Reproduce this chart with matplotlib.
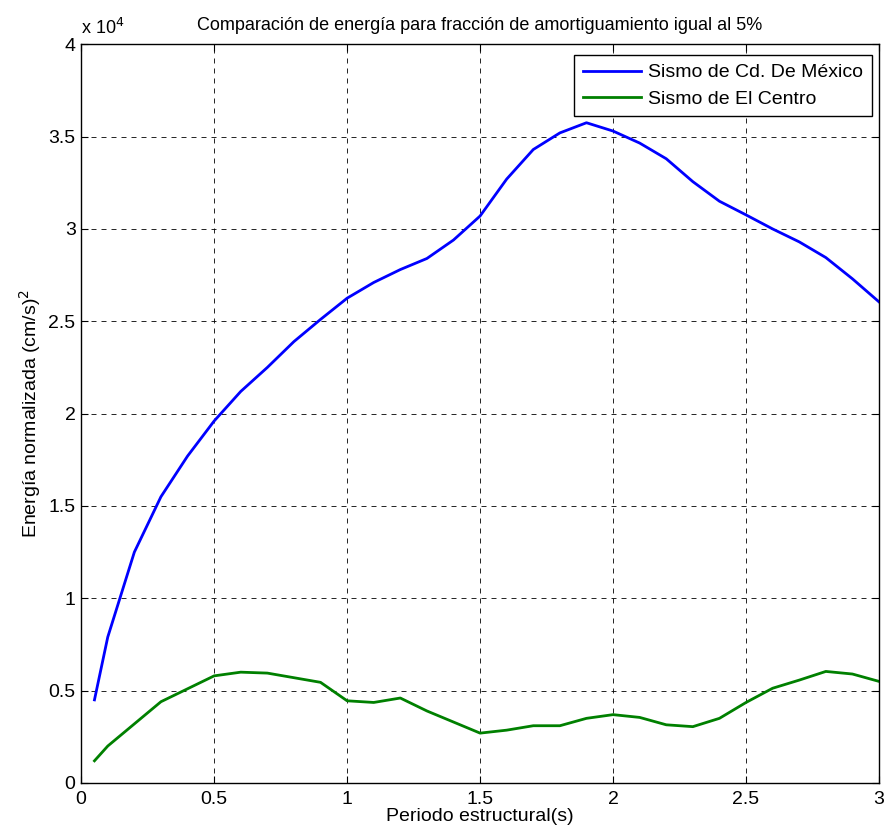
import matplotlib
matplotlib.use('Agg')
import matplotlib.pyplot as plt

plt.rcParams['font.family'] = ['Liberation Sans', 'DejaVu Sans']

# periodo (s)
T = [0.05, 0.1, 0.2, 0.3, 0.4, 0.5, 0.6, 0.7, 0.8, 0.9, 1.0,
     1.1, 1.2, 1.3, 1.4, 1.5, 1.6, 1.7, 1.8, 1.9, 2.0,
     2.1, 2.2, 2.3, 2.4, 2.5, 2.6, 2.7, 2.8, 2.9, 3.0]

# energia normalizada (x 10^4)
mexico = [0.45, 0.79, 1.25, 1.55, 1.77, 1.96, 2.12, 2.25, 2.39, 2.51, 2.625,
          2.71, 2.78, 2.84, 2.94, 3.07, 3.27, 3.43, 3.52, 3.575, 3.53,
          3.465, 3.38, 3.256, 3.15, 3.076, 3.0, 2.93, 2.845, 2.73, 2.605]
centro = [0.12, 0.20, 0.32, 0.44, 0.51, 0.58, 0.60, 0.595, 0.57, 0.545, 0.445,
          0.436, 0.46, 0.39, 0.33, 0.27, 0.286, 0.31, 0.31, 0.35, 0.37,
          0.355, 0.315, 0.305, 0.35, 0.436, 0.513, 0.557, 0.604, 0.59, 0.55]

fig = plt.figure(figsize=(8.87, 8.35), dpi=100)
ax = fig.add_axes([0.0915, 0.0623, 0.8995, 0.8847])

ax.plot(T, mexico, color=(0, 0, 1), lw=2.0, label='Sismo de Cd. De México')
ax.plot(T, centro, color=(0, 0.5, 0), lw=2.0, label='Sismo de El Centro')

ax.set_xlim(0, 3)
ax.set_ylim(0, 4)
ax.set_xticks([0, 0.5, 1, 1.5, 2, 2.5, 3])
ax.set_xticklabels(['0', '0.5', '1', '1.5', '2', '2.5', '3'])
ax.set_yticks([0, 0.5, 1, 1.5, 2, 2.5, 3, 3.5, 4])
ax.set_yticklabels(['0', '0.5', '1', '1.5', '2', '2.5', '3', '3.5', '4'])
ax.tick_params(direction='in', top=True, right=True, labelsize=14, length=5)
ax.tick_params(axis='x', pad=6)
ax.tick_params(axis='y', pad=4)
ax.grid(True, color='black', linestyle=(0, (6, 6)), linewidth=0.6)
for s in ax.spines.values():
    s.set_linewidth(1.0)

ax.set_xlabel('Periodo estructural(s)', fontsize=14, labelpad=0)
ax.set_ylabel('Energía normalizada (cm/s)$^2$', fontsize=14, labelpad=4)
ax.set_title('Comparación de energía para fracción de amortiguamiento igual al 5%',
             fontsize=13, pad=10)
ax.text(0.0, 1.008, r'x 10$^{4}$', transform=ax.transAxes, fontsize=13,
        ha='left', va='bottom')

leg = ax.legend(loc='upper right', fontsize=14, fancybox=False, framealpha=1,
                edgecolor='black', borderaxespad=0, handlelength=3.0,
                handletextpad=0.35, labelspacing=0.45, borderpad=0.45,
                bbox_to_anchor=(872 / 887, 1 - 55 / 835),
                bbox_transform=fig.transFigure)
leg.get_frame().set_linewidth(1.0)

fig.savefig('out.png', dpi=100)
